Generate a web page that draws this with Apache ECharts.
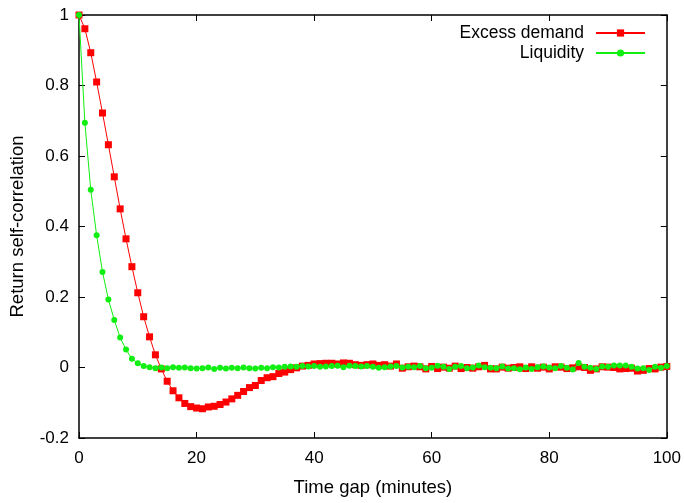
<!DOCTYPE html>
<html>
<head>
<meta charset="utf-8">
<script src="https://cdn.jsdelivr.net/npm/echarts@6/dist/echarts.min.js"></script>
<style>
html,body{margin:0;padding:0;background:#fff;}
#chart{width:684px;height:503px;}
</style>
</head>
<body>
<div id="chart"></div>
<script>
// Time gap in minutes (0..100)
const timeGap = Array.from({length: 101}, (_, i) => i);

const excessDemand = [
  1.000, 0.961, 0.893, 0.810, 0.722, 0.632, 0.541, 0.450, 0.365, 0.286,
  0.212, 0.144, 0.087, 0.036, -0.004, -0.039, -0.066, -0.086, -0.102, -0.111,
  -0.115, -0.117, -0.112, -0.110, -0.105, -0.098, -0.089, -0.079, -0.068, -0.057,
  -0.051, -0.037, -0.029, -0.026, -0.017, -0.013, -0.006, -0.001, 0.004, 0.006,
  0.010, 0.011, 0.012, 0.012, 0.010, 0.013, 0.012, 0.008, 0.006, 0.008,
  0.010, 0.006, 0.008, 0.004, 0.010, -0.002, 0.002, 0.004, 0.002, -0.004,
  0.003, -0.003, 0.001, -0.002, 0.004, -0.003, 0.000, -0.002, 0.002, 0.006,
  -0.004, -0.004, 0.001, -0.002, 0.000, 0.002, -0.003, 0.002, -0.002, 0.001,
  -0.004, 0.002, 0.001, -0.003, -0.001, 0.002, 0.000, -0.008, -0.004, 0.002,
  0.001, 0.000, -0.004, -0.003, -0.002, -0.010, -0.008, -0.003, -0.004, 0.001,
  0.003
];

const liquidity = [
  1.000, 0.694, 0.504, 0.375, 0.271, 0.193, 0.135, 0.085, 0.051, 0.025,
  0.012, 0.004, 0.001, -0.002, 0.000, -0.002, 0.001, -0.001, 0.000, -0.002,
  -0.003, -0.002, 0.000, -0.004, -0.001, -0.003, -0.001, -0.002, 0.000, -0.002,
  -0.003, -0.001, -0.002, 0.001, 0.000, 0.002, 0.003, 0.002, 0.004, 0.003,
  0.004, 0.002, 0.003, 0.004, 0.005, 0.001, 0.005, 0.004, 0.003, 0.004,
  0.002, -0.001, 0.001, 0.003, 0.004, 0.000, 0.002, 0.001, 0.004, -0.002,
  -0.001, 0.005, 0.002, -0.004, 0.002, 0.004, -0.002, 0.000, 0.006, 0.001,
  -0.001, -0.002, 0.003, -0.003, -0.002, -0.005, 0.000, -0.004, 0.001, 0.003,
  0.000, -0.002, 0.004, -0.001, -0.006, 0.013, 0.002, -0.001, -0.004, 0.003,
  0.002, 0.006, 0.006, 0.006, 0.002, -0.003, -0.002, -0.007, 0.002, -0.001,
  0.004
];

const xTicks = [0, 20, 40, 60, 80, 100];
const yTicks = [-0.2, 0, 0.2, 0.4, 0.6, 0.8, 1];

const FONT = 'Liberation Sans, Arial, sans-serif';
const chart = echarts.init(document.getElementById('chart'), null, {renderer: 'canvas'});

const axisLine = {show: true, onZero: false, lineStyle: {color: '#000', width: 1.5}};
const tickIn = {show: true, inside: true, length: 6, lineStyle: {color: '#000', width: 1}};

chart.setOption({
  animation: false,
  backgroundColor: '#fff',
  grid: {left: 77, right: 16, top: 15, bottom: 65, containLabel: false},
  legend: {
    orient: 'vertical',
    right: 38,
    top: 24,
    align: 'right',
    itemWidth: 49,
    itemHeight: 9,
    itemGap: 2,
    padding: 0,
    textStyle: {fontFamily: FONT, fontSize: 17.5, color: '#000', padding: [0, 7, 0, 0]},
    data: ['Excess demand', 'Liquidity']
  },
  xAxis: [{
    type: 'value', min: xTicks[0], max: xTicks[xTicks.length - 1], interval: 20,
    name: 'Time gap (minutes)', nameLocation: 'middle', nameGap: 40,
    nameTextStyle: {fontFamily: FONT, fontSize: 18.5, color: '#000'},
    axisLine: axisLine, axisTick: tickIn,
    axisLabel: {fontFamily: FONT, fontSize: 17, color: '#000', margin: 12},
    splitLine: {show: false}
  }, {
    type: 'value', position: 'top', min: xTicks[0], max: xTicks[xTicks.length - 1], interval: 20,
    axisLine: axisLine, axisTick: tickIn, axisLabel: {show: false}, splitLine: {show: false}
  }],
  yAxis: [{
    type: 'value', min: yTicks[0], max: yTicks[yTicks.length - 1], interval: 0.2,
    name: 'Return self-correlation', nameLocation: 'middle', nameGap: 52,
    nameTextStyle: {fontFamily: FONT, fontSize: 18.5, color: '#000'},
    axisLine: axisLine, axisTick: tickIn,
    axisLabel: {fontFamily: FONT, fontSize: 17, color: '#000', margin: 10,
      formatter: v => String(Math.round(v * 10) / 10)},
    splitLine: {show: false}
  }, {
    type: 'value', position: 'right', min: yTicks[0], max: yTicks[yTicks.length - 1], interval: 0.2,
    axisLine: axisLine, axisTick: tickIn, axisLabel: {show: false}, splitLine: {show: false}
  }],
  series: [{
    name: 'Excess demand', type: 'line',
    data: timeGap.map((t, i) => [t, excessDemand[i]]),
    symbol: 'rect', symbolSize: 7, showAllSymbol: true,
    itemStyle: {color: '#ff0000'},
    lineStyle: {color: '#ff0000', width: 1},
    z: 2
  }, {
    name: 'Liquidity', type: 'line',
    data: timeGap.map((t, i) => [t, liquidity[i]]),
    symbol: 'circle', symbolSize: 6, showAllSymbol: true,
    itemStyle: {color: '#11ee11'},
    lineStyle: {color: '#11ee11', width: 1},
    z: 3
  }]
});
</script>
</body>
</html>
